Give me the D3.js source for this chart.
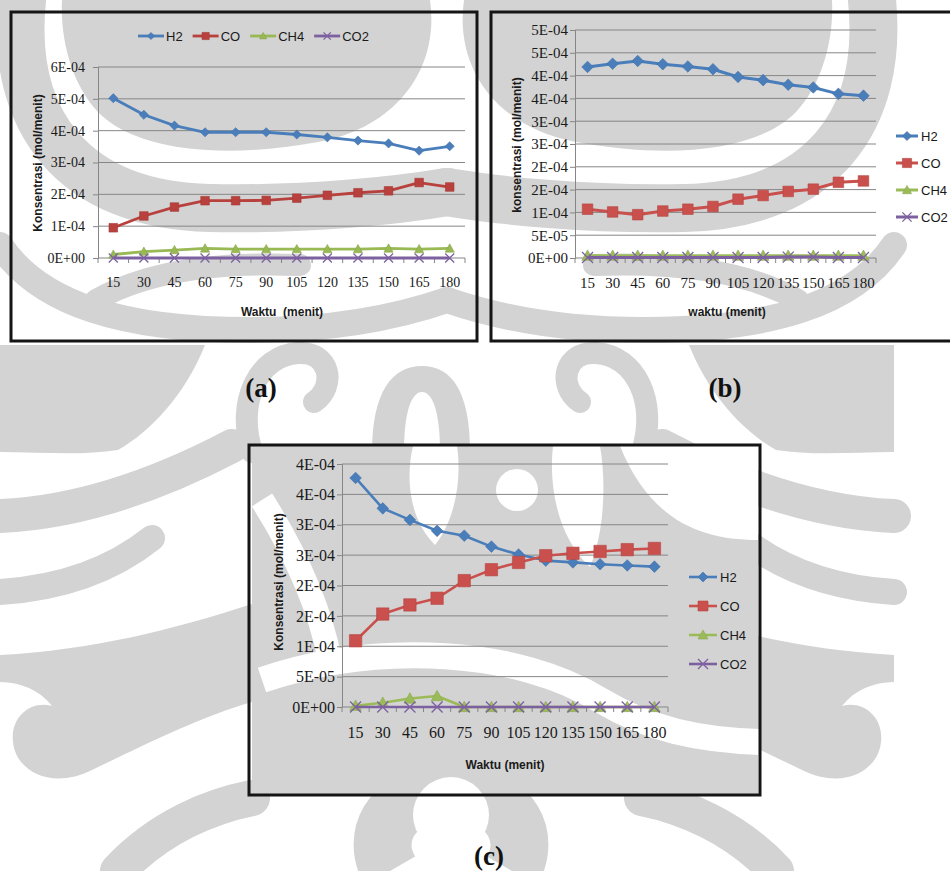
<!DOCTYPE html>
<html>
<head>
<meta charset="utf-8">
<script src="https://cdn.jsdelivr.net/npm/d3@7"></script>
<style>
  body { margin: 0; background: #ffffff; }
  svg { display: block; }
</style>
</head>
<body>
<svg id="fig" width="950" height="871"></svg>
<script>
// ---------- data ----------
const minutes = [15, 30, 45, 60, 75, 90, 105, 120, 135, 150, 165, 180];
const gasNames = ["H2", "CO", "CH4", "CO2"];

// panel (a)
const h2A  = [5.02e-4, 4.50e-4, 4.16e-4, 3.95e-4, 3.95e-4, 3.95e-4, 3.88e-4, 3.79e-4, 3.69e-4, 3.60e-4, 3.37e-4, 3.51e-4];
const coA  = [0.95e-4, 1.32e-4, 1.60e-4, 1.80e-4, 1.80e-4, 1.81e-4, 1.88e-4, 1.97e-4, 2.05e-4, 2.11e-4, 2.37e-4, 2.23e-4];
const ch4A = [0.11e-4, 0.20e-4, 0.25e-4, 0.30e-4, 0.28e-4, 0.28e-4, 0.28e-4, 0.28e-4, 0.28e-4, 0.30e-4, 0.28e-4, 0.30e-4];
const co2A = [0, 0, 0, 0, 0, 0, 0, 0, 0, 0, 0, 0];
const yTicksA = [0, 1e-4, 2e-4, 3e-4, 4e-4, 5e-4, 6e-4];
const yTickLabelsA = ["0E+00", "1E-04", "2E-04", "3E-04", "4E-04", "5E-04", "6E-04"];

// panel (b)
const h2B  = [4.19e-4, 4.26e-4, 4.32e-4, 4.25e-4, 4.20e-4, 4.14e-4, 3.97e-4, 3.90e-4, 3.80e-4, 3.74e-4, 3.60e-4, 3.56e-4];
const coB  = [1.07e-4, 1.01e-4, 0.95e-4, 1.03e-4, 1.07e-4, 1.13e-4, 1.29e-4, 1.37e-4, 1.46e-4, 1.51e-4, 1.66e-4, 1.69e-4];
const ch4B = [0.05e-4, 0.05e-4, 0.05e-4, 0.05e-4, 0.05e-4, 0.05e-4, 0.05e-4, 0.05e-4, 0.05e-4, 0.05e-4, 0.05e-4, 0.05e-4];
const co2B = [0.01e-4, 0.01e-4, 0.01e-4, 0.01e-4, 0.01e-4, 0.01e-4, 0.01e-4, 0.01e-4, 0.02e-4, 0.02e-4, 0.01e-4, 0.01e-4];
const yTicksB = [0, 0.5e-4, 1e-4, 1.5e-4, 2e-4, 2.5e-4, 3e-4, 3.5e-4, 4e-4, 4.5e-4, 5e-4];
const yTickLabelsB = ["0E+00", "5E-05", "1E-04", "2E-04", "2E-04", "3E-04", "3E-04", "4E-04", "4E-04", "5E-04", "5E-04"];

// panel (c)
const h2C  = [3.77e-4, 3.27e-4, 3.08e-4, 2.90e-4, 2.82e-4, 2.64e-4, 2.51e-4, 2.41e-4, 2.38e-4, 2.35e-4, 2.33e-4, 2.31e-4];
const coC  = [1.09e-4, 1.53e-4, 1.68e-4, 1.79e-4, 2.08e-4, 2.26e-4, 2.38e-4, 2.49e-4, 2.53e-4, 2.56e-4, 2.59e-4, 2.61e-4];
const ch4C = [0.02e-4, 0.07e-4, 0.14e-4, 0.18e-4, 0, 0, 0, 0, 0, 0, 0, 0];
const co2C = [0, 0, 0, 0, 0, 0, 0, 0, 0, 0, 0, 0];
const yTicksC = [0, 0.5e-4, 1e-4, 1.5e-4, 2e-4, 2.5e-4, 3e-4, 3.5e-4, 4e-4];
const yTickLabelsC = ["0E+00", "5E-05", "1E-04", "2E-04", "2E-04", "3E-04", "3E-04", "4E-04", "4E-04"];

// ---------- styling ----------
const gasMarkers = { H2: "diamond", CO: "square", CH4: "triangle", CO2: "cross" };
const gridColor = "#868686";
const tickFont = "'Liberation Serif', 'Times New Roman', serif";
const labelFont = "'Liberation Sans', Arial, sans-serif";
const legendFont = "'Liberation Sans Narrow', 'Liberation Sans', Arial, sans-serif";
const ornamentGray = "#d3d3d3";

const svg = d3.select("#fig");

// ---------- background ornament ----------
const ornament = svg.append("g").attr("fill", ornamentGray).attr("stroke", "none");
const sideShapes = [
  { d: "M62,0 H430 C440,70 395,128 318,142 C220,160 135,150 98,112 C72,84 60,40 62,0 Z" },
  { d: "M22,0 C10,120 72,205 210,208 C310,210 400,200 447,192", w: 48 },
  { d: "M0,245 C40,305 125,330 250,330 C330,330 395,318 447,300", w: 26 },
  { d: "M0,345 H205 C185,395 150,432 118,450 C80,456 40,452 0,452 Z" },
  { d: "M252,452 C236,402 258,356 298,353 C330,351 337,386 314,402", w: 22 },
  { d: "M0,516 C72,513 148,490 232,446", w: 34 },
  { d: "M0,592 C62,588 112,570 152,538", w: 26 },
  { d: "M0,655 C92,650 172,630 252,604 V702 C202,716 142,746 92,770 C52,790 16,772 13,742 C10,716 32,700 52,706 C40,690 20,682 0,682 Z" },
  { d: "M118,871 C160,826 212,806 252,798", w: 36 },
  { d: "M96,300 C150,270 220,262 300,265", w: 22 }
];
const orientations = ["", "translate(894,0) scale(-1,1)"];
orientations.forEach(tr => {
  sideShapes.forEach(s => {
    const p = ornament.append("path").attr("d", s.d).attr("transform", tr || null);
    if (s.w) p.attr("fill", "none").attr("stroke", ornamentGray).attr("stroke-width", s.w).attr("stroke-linecap", "round");
  });
});
// central figure
ornament.append("path").attr("d", "M372,452 C372,392 392,366 422,366 C452,366 470,392 470,452 Z");
ornament.append("path").attr("d", "M404,452 C404,410 412,392 422,392 C432,392 440,410 440,452 Z").attr("fill", "#ffffff");
ornament.append("rect").attr("x", 252).attr("y", 446).attr("width", 506).attr("height", 350);
ornament.append("path").attr("fill", "#ffffff")
  .attr("d", "M413,446 C405,480 410,520 435,545 C455,520 462,480 457,446 Z");
ornament.append("path").attr("fill", "#ffffff")
  .attr("d", "M553,446 C548,490 560,540 590,567 C605,530 606,480 600,446 Z");
ornament.append("circle").attr("cx", 517).attr("cy", 490).attr("r", 21).attr("fill", "#ffffff");
ornament.append("path").attr("fill", "#ffffff")
  .attr("d", "M620,446 H758 V540 C700,540 650,520 620,446 Z");
ornament.append("path").attr("fill", "none").attr("stroke", "#ffffff").attr("stroke-width", 26)
  .attr("d", "M262,680 C380,640 520,650 600,700 C650,730 700,740 760,742");
ornament.append("path").attr("fill", "none").attr("stroke", "#ffffff").attr("stroke-width", 24)
  .attr("d", "M262,500 C300,560 320,610 330,660");
ornament.append("path").attr("fill", "none").attr("stroke", ornamentGray).attr("stroke-width", 58)
  .attr("d", "M390,871 C372,840 385,796 451,790 C517,796 530,840 512,871");
ornament.append("circle").attr("cx", 451).attr("cy", 815).attr("r", 38).attr("fill", "#ffffff");

// ---------- marker shapes ----------
function markerPath(kind, s) {
  if (kind === "diamond") return `M0,${-s}L${s},0L0,${s}L${-s},0Z`;
  if (kind === "square") return `M${-s},${-s}H${s}V${s}H${-s}Z`;
  if (kind === "triangle") return `M0,${-s}L${s},${s * 0.8}L${-s},${s * 0.8}Z`;
  return `M${-s},${-s}L${s},${s}M${-s},${s}L${s},${-s}`;
}

function drawMarker(g, kind, color, s, x, y) {
  const p = g.append("path").attr("d", markerPath(kind, s)).attr("transform", `translate(${x},${y})`);
  if (kind === "cross") p.attr("fill", "none").attr("stroke", color).attr("stroke-width", 1.3);
  else p.attr("fill", color).attr("stroke", d3.color(color).darker(0.3)).attr("stroke-width", 0.6);
  return p;
}

// ---------- one chart panel ----------
function drawPanel(cfg) {
  const g = svg.append("g");
  const { left, right, top, bottom } = cfg.plot;
  const colors = cfg.colors;

  g.append("rect")
    .attr("x", cfg.frame[0]).attr("y", cfg.frame[1])
    .attr("width", cfg.frame[2]).attr("height", cfg.frame[3])
    .attr("fill", "none").attr("stroke", "#151515").attr("stroke-width", 3);

  const x = d3.scaleBand().domain(minutes).range([left, right]);
  const y = d3.scaleLinear().domain([0, cfg.yMax]).range([bottom, top]);
  const cx = m => x(m) + x.bandwidth() / 2;

  // horizontal gridlines
  g.append("g").selectAll("line").data(cfg.yTicks.filter(t => t > 0)).join("line")
    .attr("x1", left).attr("x2", right)
    .attr("y1", d => y(d)).attr("y2", d => y(d))
    .attr("stroke", gridColor).attr("stroke-width", 1);

  // y axis
  const yAxis = d3.axisLeft(y)
    .tickValues(cfg.yTicks)
    .tickFormat((d, i) => cfg.yTickLabels[i])
    .tickSize(5).tickPadding(cfg.yPad);
  const ya = g.append("g").attr("transform", `translate(${left},0)`).call(yAxis);
  ya.select(".domain").attr("stroke", gridColor);
  ya.selectAll(".tick line").attr("stroke", gridColor);
  ya.selectAll("text").attr("font-family", tickFont).attr("font-size", cfg.tickSize).attr("fill", "#1a1a1a");

  // x axis: labels centred in each category, tick marks on category boundaries
  const xAxis = d3.axisBottom(x).tickSize(0).tickPadding(cfg.xPad);
  const xa = g.append("g").attr("transform", `translate(0,${bottom})`).call(xAxis);
  xa.select(".domain").remove();
  xa.selectAll("text").attr("font-family", tickFont).attr("font-size", cfg.tickSize).attr("fill", "#1a1a1a");
  g.append("line").attr("x1", left).attr("x2", right).attr("y1", bottom).attr("y2", bottom)
    .attr("stroke", gridColor).attr("stroke-width", 1.2);
  const bounds = minutes.map(m => x(m)).concat([x(minutes[minutes.length - 1]) + x.bandwidth()]);
  g.append("g").selectAll("line").data(bounds).join("line")
    .attr("x1", d => d).attr("x2", d => d)
    .attr("y1", bottom).attr("y2", bottom + 5)
    .attr("stroke", gridColor);

  // series
  const seriesData = { H2: cfg.h2, CO: cfg.co, CH4: cfg.ch4, CO2: cfg.co2 };
  const line = d3.line().x(d => cx(d.m)).y(d => y(d.v));
  gasNames.forEach(name => {
    const pts = minutes.map((m, i) => ({ m, v: seriesData[name][i] }));
    const sg = g.append("g");
    sg.append("path").datum(pts).attr("d", line)
      .attr("fill", "none").attr("stroke", colors[name])
      .attr("stroke-width", cfg.lineWidth).attr("stroke-linejoin", "round");
    pts.forEach(p => drawMarker(sg, gasMarkers[name], colors[name], cfg.markerSize[name], cx(p.m), y(p.v)));
  });

  // axis titles
  g.append("text")
    .attr("transform", `translate(${cfg.yTitlePos[0]},${cfg.yTitlePos[1]}) rotate(-90)`)
    .attr("text-anchor", "middle").attr("dominant-baseline", "central")
    .attr("font-family", labelFont).attr("font-weight", "bold").attr("font-size", 12)
    .attr("fill", "#1a1a1a").text(cfg.yTitle);
  g.append("text")
    .attr("x", cfg.xTitlePos[0]).attr("y", cfg.xTitlePos[1])
    .attr("text-anchor", "middle")
    .attr("font-family", labelFont).attr("font-weight", "bold").attr("font-size", 12)
    .attr("fill", "#1a1a1a").text(cfg.xTitle).style("white-space", "pre");

  // legend
  const lg = g.append("g").attr("font-family", legendFont).attr("font-size", 13).attr("fill", "#1a1a1a");
  if (cfg.legend.mode === "row") {
    let lx = cfg.legend.x;
    const ly = cfg.legend.y;
    gasNames.forEach(name => {
      lg.append("line").attr("x1", lx).attr("x2", lx + 26).attr("y1", ly).attr("y2", ly)
        .attr("stroke", colors[name]).attr("stroke-width", cfg.lineWidth);
      drawMarker(lg, gasMarkers[name], colors[name], cfg.legend.marker, lx + 13, ly);
      const t = lg.append("text").attr("x", lx + 28).attr("y", ly).attr("dominant-baseline", "central").text(name);
      lx += 28 + t.node().getComputedTextLength() + 10;
    });
  } else {
    gasNames.forEach((name, i) => {
      const ly = cfg.legend.y + i * cfg.legend.step;
      const lx = cfg.legend.x;
      lg.append("line").attr("x1", lx).attr("x2", lx + cfg.legend.len).attr("y1", ly).attr("y2", ly)
        .attr("stroke", colors[name]).attr("stroke-width", cfg.lineWidth);
      drawMarker(lg, gasMarkers[name], colors[name], cfg.legend.marker, lx + cfg.legend.len / 2, ly);
      lg.append("text").attr("x", lx + cfg.legend.len + 3).attr("y", ly).attr("dominant-baseline", "central").text(name);
    });
  }
}

const darkPalette = { H2: "#4a7ebb", CO: "#b8413e", CH4: "#98b954", CO2: "#7d60a0" };
const brightPalette = { H2: "#4a7ebb", CO: "#c9504c", CH4: "#9bbb59", CO2: "#7d60a0" };

drawPanel({
  frame: [11, 12, 466, 329],
  plot: { left: 98, right: 465, top: 67, bottom: 258 },
  yMax: 6e-4, yTicks: yTicksA, yTickLabels: yTickLabelsA,
  h2: h2A, co: coA, ch4: ch4A, co2: co2A,
  colors: darkPalette,
  tickSize: 14, yPad: 8, xPad: 19,
  lineWidth: 2.8,
  markerSize: { H2: 4.6, CO: 4.3, CH4: 4.6, CO2: 4.5 },
  yTitle: "Konsentrasi (mol/menit)", yTitlePos: [38, 163],
  xTitle: "Waktu  (menit)", xTitlePos: [282, 316],
  legend: { mode: "row", x: 138, y: 36, marker: 3.6 }
});

drawPanel({
  frame: [491, 12, 470, 329],
  plot: { left: 575, right: 876, top: 30, bottom: 258 },
  yMax: 5e-4, yTicks: yTicksB, yTickLabels: yTickLabelsB,
  h2: h2B, co: coB, ch4: ch4B, co2: co2B,
  colors: brightPalette,
  tickSize: 15, yPad: 2, xPad: 19,
  lineWidth: 3,
  markerSize: { H2: 5.8, CO: 5.3, CH4: 5.8, CO2: 5.5 },
  yTitle: "konsentrasi (mol/menit)", yTitlePos: [517, 145],
  xTitle: "waktu (menit)", xTitlePos: [727, 316],
  legend: { mode: "column", x: 896, y: 136, step: 27, len: 22, marker: 4.6 }
});

drawPanel({
  frame: [249, 445, 511, 350],
  plot: { left: 342, right: 668, top: 464, bottom: 707 },
  yMax: 4e-4, yTicks: yTicksC, yTickLabels: yTickLabelsC,
  h2: h2C, co: coC, ch4: ch4C, co2: co2C,
  colors: brightPalette,
  tickSize: 16, yPad: 2, xPad: 20,
  lineWidth: 2.6,
  markerSize: { H2: 5.8, CO: 6.2, CH4: 5.8, CO2: 5.5 },
  yTitle: "Konsentrasi (mol/menit)", yTitlePos: [279, 582],
  xTitle: "Waktu (menit)", xTitlePos: [505, 769],
  legend: { mode: "column", x: 689, y: 577, step: 29, len: 28, marker: 5 }
});

// panel captions
const captions = [["(a)", 261, 397], ["(b)", 725, 397], ["(c)", 489, 865]];
svg.append("g").selectAll("text").data(captions).join("text")
  .attr("x", d => d[1]).attr("y", d => d[2])
  .attr("text-anchor", "middle")
  .attr("font-family", "'Liberation Serif', 'Times New Roman', serif")
  .attr("font-weight", "bold").attr("font-size", 27).attr("fill", "#111")
  .text(d => d[0]);
</script>
</body>
</html>
